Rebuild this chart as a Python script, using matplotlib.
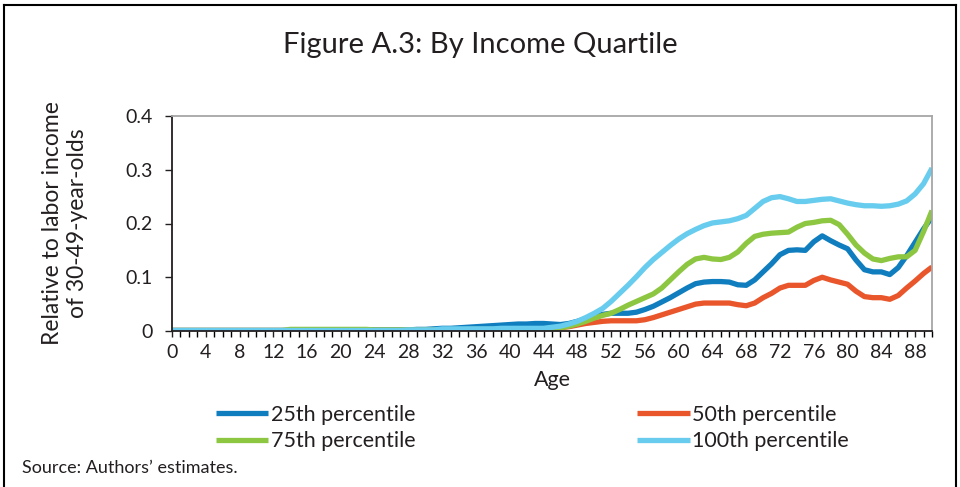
import numpy as np
import matplotlib

matplotlib.use("Agg")
import matplotlib.pyplot as plt
from matplotlib.lines import Line2D
from matplotlib.ticker import MultipleLocator

plt.rcParams["font.family"] = ["Lato", "DejaVu Sans"]

# ---------------------------------------------------------------------------
# data: labor income by age, relative to 30-49-year-olds, by income quartile
# ---------------------------------------------------------------------------
ages = list(range(0, 91))

p25 = ([0.001] * 16 + [0.002] * 13 +
       [0.003, 0.003, 0.004, 0.005, 0.005, 0.006, 0.007, 0.008, 0.009, 0.010,
        0.011, 0.012, 0.013, 0.013, 0.014, 0.014, 0.013, 0.012, 0.014, 0.018,
        0.023, 0.028, 0.031, 0.033, 0.033, 0.033, 0.035, 0.040, 0.046, 0.054,
        0.062, 0.071, 0.080, 0.088, 0.091, 0.092, 0.092, 0.091, 0.086, 0.085,
        0.095, 0.110, 0.125, 0.142, 0.150, 0.151, 0.150, 0.166, 0.177, 0.168,
        0.160, 0.153, 0.132, 0.114, 0.110, 0.110, 0.105, 0.118, 0.140, 0.165,
        0.190, 0.212])

p50 = ([0.001] * 39 +
       [0.002, 0.002, 0.002, 0.002, 0.002, 0.003, 0.004, 0.006, 0.008, 0.011,
        0.014, 0.016, 0.018, 0.019, 0.019, 0.019, 0.019, 0.021, 0.025, 0.030,
        0.035, 0.040, 0.045, 0.050, 0.052, 0.052, 0.052, 0.052, 0.049, 0.047,
        0.052, 0.062, 0.070, 0.080, 0.085, 0.085, 0.085, 0.094, 0.100, 0.095,
        0.091, 0.087, 0.074, 0.064, 0.062, 0.062, 0.059, 0.066, 0.080, 0.093,
        0.107, 0.119])

p75 = ([0.001] * 14 + [0.003] * 10 + [0.002] * 11 + [0.003] * 10 +
       [0.004, 0.006, 0.009, 0.013, 0.018, 0.024, 0.029, 0.033, 0.040, 0.048,
        0.055, 0.062, 0.069, 0.080, 0.095, 0.110, 0.124, 0.134, 0.137, 0.134,
        0.133, 0.137, 0.147, 0.163, 0.176, 0.180, 0.182, 0.183, 0.184, 0.193,
        0.200, 0.202, 0.205, 0.206, 0.198, 0.180, 0.160, 0.145, 0.134, 0.131,
        0.135, 0.138, 0.138, 0.150, 0.185, 0.224])

p100 = ([0.001] * 28 + [0.002] * 4 + [0.004] * 7 + [0.005] * 6 +
        [0.007, 0.009, 0.013, 0.018, 0.025, 0.033, 0.042, 0.055, 0.070, 0.085,
         0.101, 0.118, 0.133, 0.146, 0.159, 0.171, 0.181, 0.189, 0.196, 0.201,
         0.203, 0.205, 0.209, 0.215, 0.228, 0.241, 0.248, 0.250, 0.246, 0.241,
         0.241, 0.243, 0.245, 0.246, 0.242, 0.238, 0.235, 0.233, 0.233, 0.232,
         0.233, 0.236, 0.242, 0.255, 0.274, 0.303])

series = [
    ("25th percentile", p25, "#0F7DBE"),
    ("50th percentile", p50, "#E9562B"),
    ("75th percentile", p75, "#8DC641"),
    ("100th percentile", p100, "#67CCEE"),
]

# ---------------------------------------------------------------------------
# figure
# ---------------------------------------------------------------------------
fig = plt.figure(figsize=(9.6, 4.87), dpi=100)
ax = fig.add_axes([172 / 960, 1 - 331 / 487, 760 / 960, 215 / 487])

lines = {}
for label, vals, color in series:
    lines[label], = ax.plot(ages, vals, color=color, lw=3.8, label=label,
                            solid_capstyle="butt", solid_joinstyle="round")

ax.set_xlim(0, 90)
ax.set_ylim(0, 0.4)
ax.xaxis.set_major_locator(MultipleLocator(4))
ax.xaxis.set_minor_locator(MultipleLocator(1))
ax.set_yticks([0, 0.1, 0.2, 0.3, 0.4])
ax.set_yticklabels(["0", "0.1", "0.2", "0.3", "0.4"])
ax.tick_params(axis="both", labelsize=14, colors="#231F20")
ax.tick_params(axis="x", which="major", length=4, width=1, pad=5)
ax.tick_params(axis="x", which="minor", length=4, width=1)
ax.tick_params(axis="y", length=5, width=1, pad=9)

for side in ("left", "bottom"):
    ax.spines[side].set_color("#231F20")
    ax.spines[side].set_linewidth(1.3)
for side in ("top", "right"):
    ax.spines[side].set_color("#A6A6A6")
    ax.spines[side].set_linewidth(1.3)

ax.set_xlabel("Age", fontsize=15.5, color="#231F20", labelpad=7)
ax.set_ylabel("Relative to labor income\nof 30-49-year-olds", fontsize=16.5,
              color="#231F20", labelpad=27, linespacing=1.2)

fig.text(0.5, 1 - 45 / 487, "Figure A.3: By Income Quartile", ha="center",
         va="center", fontsize=21, color="#231F20")

# legend: row 1 = 25th, 50th; row 2 = 75th, 100th (matplotlib fills by column)
order = ["25th percentile", "75th percentile", "50th percentile", "100th percentile"]
fig.legend([lines[k] for k in order], order,
           loc="upper left", bbox_to_anchor=(207 / 960, 1 - 396 / 487),
           ncol=2, frameon=False, fontsize=15.5, handlelength=2.45,
           handletextpad=0.1, columnspacing=10.3, labelspacing=0.3,
           borderaxespad=0, labelcolor="#231F20")

fig.text(22 / 960, 1 - 468 / 487, "Source: Authors\u2019 estimates.",
         ha="left", va="center", fontsize=13, color="#231F20")

# outer frame (bottom edge falls outside the picture)
frame = dict(color="black", lw=1.5, transform=fig.transFigure)
fig.add_artist(Line2D([4 / 960, 4 / 960], [0, 1 - 5 / 487], **frame))
fig.add_artist(Line2D([956 / 960, 956 / 960], [0, 1 - 5 / 487], **frame))
fig.add_artist(Line2D([4 / 960, 956 / 960], [1 - 5 / 487, 1 - 5 / 487], **frame))

fig.savefig("out.png", dpi=100)
